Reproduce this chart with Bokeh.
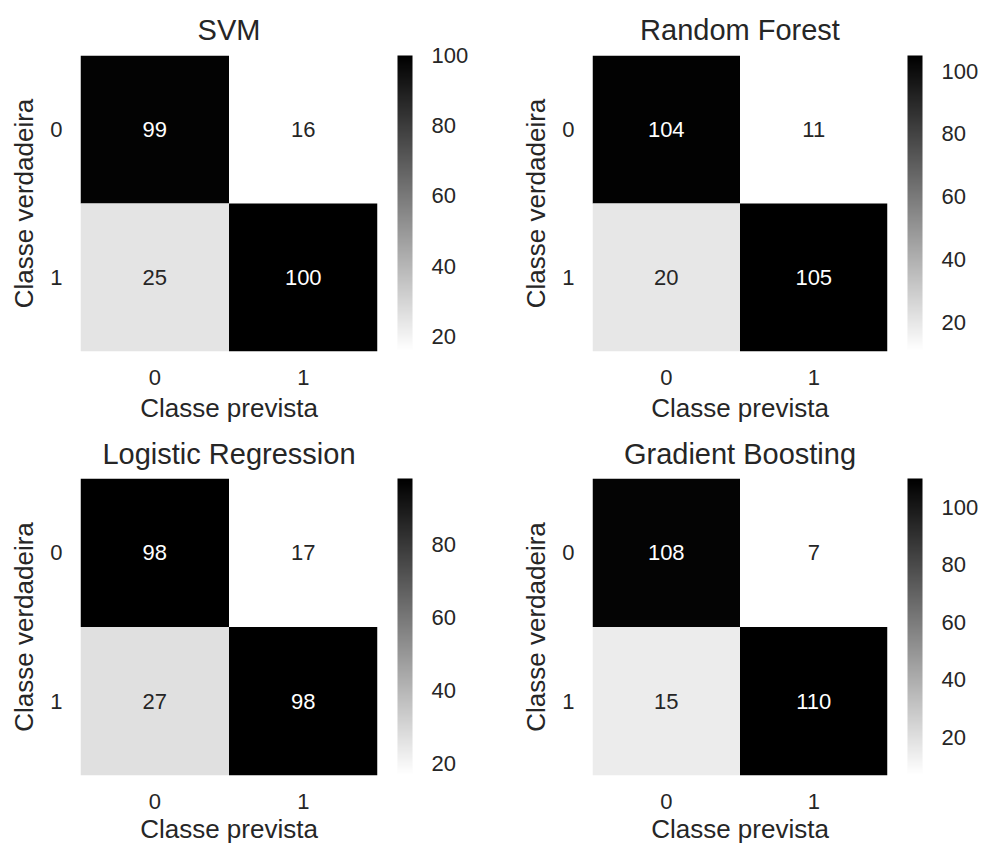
import numpy as np
from bokeh.plotting import figure
from bokeh.models import LinearColorMapper, ColorBar, FixedTicker, ColumnDataSource
from bokeh.layouts import column, row
from bokeh.embed import file_html
from bokeh.resources import INLINE
from bokeh.core.properties import value

# ---- data ----
titles = ["SVM", "Random Forest", "Logistic Regression", "Gradient Boosting"]
svm_cm = [[99, 16], [25, 100]]
rf_cm = [[104, 11], [20, 105]]
lr_cm = [[98, 17], [27, 98]]
gb_cm = [[108, 7], [15, 110]]
class_labels = ["0", "1"]
colorbar_ticks = [20, 40, 60, 80, 100]
x_title = "Classe prevista"
y_title = "Classe verdadeira"

FONT = "Liberation Sans"
TXT = "#262626"
gray_r = ["#%02x%02x%02x" % (v, v, v) for v in range(255, -1, -1)]


def panel(title, cm, width, height, left, top, right, bottom, frame_h,
          title_standoff, xlabel_standoff):
    vals = np.array(cm)
    lo, hi = int(vals.min()), int(vals.max())
    mapper = LinearColorMapper(palette=gray_r, low=lo, high=hi)
    xs, ys, vs, tc = [], [], [], []
    for i, true_lab in enumerate(class_labels):
        for j, pred_lab in enumerate(class_labels):
            v = cm[i][j]
            xs.append(pred_lab)
            ys.append(true_lab)
            vs.append(v)
            g = 1 - (v - lo) / (hi - lo)
            lum = ((g + 0.055) / 1.055) ** 2.4 if g > 0.04045 else g / 12.92
            tc.append(TXT if lum > 0.408 else "white")
    src = ColumnDataSource(dict(x=xs, y=ys, v=vs, t=[str(v) for v in vs], tc=tc))
    p = figure(width=width, height=height, x_range=class_labels,
               y_range=class_labels[::-1], output_backend="svg",
               toolbar_location=None, min_border_left=left, min_border_top=top,
               min_border_right=right, min_border_bottom=bottom, title=title)
    p.rect(x="x", y="y", width=1, height=1, source=src,
           fill_color={"field": "v", "transform": mapper}, line_color=None)
    p.text(x="x", y="y", text="t", source=src, text_color="tc",
           text_align="center", text_baseline="middle",
           text_font=value(FONT), text_font_size="22px")
    p.title.text_font = FONT
    p.title.text_font_size = "29px"
    p.title.text_font_style = "normal"
    p.title.text_color = TXT
    p.title.align = "center"
    p.title.standoff = title_standoff
    p.outline_line_color = None
    p.grid.grid_line_color = None
    for ax, lab in ((p.xaxis, x_title), (p.yaxis, y_title)):
        ax.axis_label = lab
        ax.axis_line_color = None
        ax.major_tick_line_color = None
        ax.minor_tick_line_color = None
        ax.major_label_text_font = FONT
        ax.major_label_text_font_size = "22px"
        ax.major_label_text_color = TXT
        ax.axis_label_text_font = FONT
        ax.axis_label_text_font_size = "26px"
        ax.axis_label_text_font_style = "normal"
        ax.axis_label_text_color = TXT
    p.xaxis.major_label_standoff = 12
    p.xaxis.axis_label_standoff = xlabel_standoff
    p.yaxis.major_label_standoff = 12
    p.yaxis.axis_label_standoff = 8
    cb = ColorBar(color_mapper=mapper, ticker=FixedTicker(ticks=colorbar_ticks),
                  width=15, height=frame_h - 1, padding=0, margin=0,
                  location=(20, 1),
                  major_tick_line_color=None, bar_line_color=None,
                  border_line_color=None, major_label_text_font_size="22px",
                  major_label_text_color=TXT, major_label_text_font=FONT,
                  label_standoff=19)
    p.add_layout(cb, "right")
    return p


p1 = panel(titles[0], svm_cm, 490, 427, 80, 55, 113, 76, 296, 19, 5)
p2 = panel(titles[1], rf_cm, 491, 427, 102, 55, 93, 76, 296, 19, 5)
p3 = panel(titles[2], lr_cm, 490, 420, 80, 51, 113, 72, 297, 17, 2)
p4 = panel(titles[3], gb_cm, 491, 420, 102, 51, 93, 72, 297, 17, 2)

layout = column(row(p1, p2), row(p3, p4))
open("out.html", "w").write(file_html(layout, INLINE))
